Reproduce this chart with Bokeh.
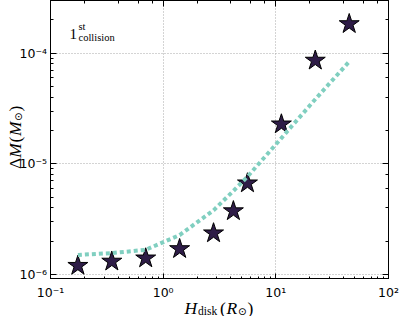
import math
from bokeh.plotting import figure
from bokeh.layouts import row, column
from bokeh.models import LogAxis, CustomJSTickFormatter, Range1d
from bokeh.core.properties import value
from bokeh.embed import file_html
from bokeh.resources import INLINE

# ---- data ----
h_disk = [0.175, 0.35, 0.7, 1.4, 2.8, 4.2, 5.6, 11.2, 22.4, 44.8]
delta_m = [1.20e-6, 1.31e-6, 1.40e-6, 1.70e-6, 2.36e-6, 3.74e-6, 6.68e-6, 2.28e-5, 8.6e-5, 1.84e-4]
model_m = [1.50e-6, 1.56e-6, 1.67e-6, 2.27e-6, 3.80e-6, 5.69e-6, 7.66e-6, 1.71e-5, 3.84e-5, 8.41e-5]
x_ticks = [0.1, 1, 10, 100]
x_tick_labels = ["10\u207b\u00b9", "10\u2070", "10\u00b9", "10\u00b2"]
y_ticks = [1e-6, 1e-5, 1e-4]
y_tick_labels = ["10\u207b\u2076", "10\u207b\u2075", "10\u207b\u2074"]

X_RANGE = (0.1, 100)
Y_RANGE = (9e-7, 3e-4)

STAR_COLOR = "#2e1c47"
LINE_COLOR = "#80cfc0"
SERIF = "Liberation Serif"
TICK_FONT = "DejaVu Sans"
TICK_SIZE = "12.5px"

# ---- layout (page px; the page has an 8 px margin) ----
M = 8
YL_W = 50                 # left strip: y label + y tick labels
FRAME_W, FRAME_H = 338, 279
P_W = FRAME_W + 11        # main plot, 11 px right border
XL_W = YL_W + P_W         # bottom strip spans everything
XL_H = 37
FRAME_L, FRAME_T = M + YL_W, M
FRAME_B = FRAME_T + FRAME_H

p = figure(width=P_W, height=FRAME_H, x_axis_type="log", y_axis_type="log",
           x_range=Range1d(*X_RANGE), y_range=Range1d(*Y_RANGE),
           output_backend="svg", toolbar_location=None,
           min_border_left=0, min_border_right=11, min_border_top=0, min_border_bottom=0)
p.background_fill_color = "white"
p.border_fill_color = "white"
p.outline_line_color = "black"
p.outline_line_width = 1

blank = CustomJSTickFormatter(code="return '';")
for ax in (p.xaxis[0], p.yaxis[0]):
    ax.axis_label = None
    ax.formatter = blank
    ax.major_label_text_font_size = "0px"
    ax.major_label_standoff = 0
    ax.axis_line_color = "black"
    ax.major_tick_in = 6
    ax.major_tick_out = 0
    ax.minor_tick_in = 3
    ax.minor_tick_out = 0
    ax.major_tick_line_color = "black"
    ax.minor_tick_line_color = "black"

for loc in ("right", "above"):
    ax = LogAxis(formatter=blank, major_label_text_font_size="0px", major_label_standoff=0,
                 major_tick_in=6, major_tick_out=0, minor_tick_in=3, minor_tick_out=0,
                 axis_line_color="black")
    p.add_layout(ax, loc)

p.grid.grid_line_color = "#a8a8a8"
p.grid.grid_line_dash = "1 2"
p.grid.grid_line_width = 1
p.grid.minor_grid_line_color = None

p.scatter(h_disk, delta_m, marker="star", size=21, fill_color=STAR_COLOR,
          line_color="black", line_width=1)
p.line(h_disk, model_m, line_width=4, line_dash="4 3", line_color=LINE_COLOR)


def ptxt(fig, s, x, y, size, style="normal", angle=0.0, font=SERIF, xo=0, yo=0,
         align="left", baseline="alphabetic"):
    as_list = lambda v: v if isinstance(v, list) else [v]
    fig.text(x=as_list(x), y=as_list(y), text=as_list(s), x_offset=xo, y_offset=yo,
             text_font=value(font), text_font_size=size if isinstance(size, str) else f"{size}px",
             text_font_style=style, text_color="black", text_align=align,
             text_baseline=baseline, angle=angle)


# "1st collision": pixel offsets from the frame's top-left corner (x right, y down)
ptxt(p, "1", X_RANGE[0], Y_RANGE[1], 15, xo=19, yo=33)
ptxt(p, "st", X_RANGE[0], Y_RANGE[1], 10.5, xo=28, yo=25.5)
ptxt(p, "collision", X_RANGE[0], Y_RANGE[1], 10.5, xo=28, yo=36.5)


def bare(fig):
    fig.outline_line_color = None
    fig.grid.visible = False
    fig.background_fill_color = "white"
    fig.border_fill_color = "white"
    return fig


# ---- left strip: linear px in x, same log y scale as the plot ----
yl = bare(figure(width=YL_W, height=FRAME_H, y_axis_type="log",
                 x_range=Range1d(0, YL_W), y_range=Range1d(*Y_RANGE),
                 output_backend="svg", toolbar_location=None, min_border=0,
                 x_axis_location=None, y_axis_location=None))

ptxt(yl, y_tick_labels, [YL_W - 3.5] * len(y_ticks), y_ticks, TICK_SIZE, font=TICK_FONT,
     align="right", baseline="middle")

A = math.pi / 2


def ytxt(s, wx, wy, size, style="normal", font=SERIF):
    # glyph y_offset is in screen px, positive = downwards
    ptxt(yl, s, wx - M, Y_RANGE[0], size, style, angle=A, font=font, yo=wy - FRAME_B)


ytxt("\u0394", 22.5, 176.5, 17.5)
ytxt("M", 22.5, 165.2, 17.5, "italic")
ytxt("(", 22.5, 150.0, 17.5)
ytxt("M", 22.5, 143.6, 17.5, "italic")
ytxt("\u2299", 25.5, 128.4, 10.5, font="DejaVu Sans")
ytxt(")", 22.5, 119.0, 17.5)

# ---- bottom strip: same log x scale (range widened to cover the whole strip) ----
dec_px = FRAME_W / (math.log10(X_RANGE[1]) - math.log10(X_RANGE[0]))
xl_range = Range1d(10 ** (math.log10(X_RANGE[0]) - YL_W / dec_px),
                   10 ** (math.log10(X_RANGE[1]) + 11 / dec_px))
xl = bare(figure(width=XL_W, height=XL_H, x_axis_type="log", x_range=xl_range,
                 y_range=Range1d(0, XL_H), output_backend="svg", toolbar_location=None,
                 min_border=0, x_axis_location=None, y_axis_location=None))


def sy(wy):
    return XL_H - (wy - FRAME_B)


ptxt(xl, x_tick_labels, x_ticks, [sy(300)] * len(x_ticks), TICK_SIZE, font=TICK_FONT,
     align="center")


def xtxt(s, wx, wy, size, style="normal", font=SERIF):
    ptxt(xl, s, X_RANGE[0], sy(wy), size, style, font=font, xo=wx - FRAME_L)


xtxt("H", 192, 315.5, 17.5, "italic")
xtxt("disk", 205.5, 318.5, 11.5)
xtxt("(", 227.5, 315.5, 17.5)
xtxt("R", 234, 315.5, 17.5, "italic")
xtxt("\u2299", 245.5, 318.5, 10.5, font="DejaVu Sans")
xtxt(")", 255, 315.5, 17.5)

layout = column(row(yl, p, spacing=0), xl, spacing=0)

with open("out.html", "w", encoding="utf-8") as f:
    f.write(file_html(layout, INLINE))
